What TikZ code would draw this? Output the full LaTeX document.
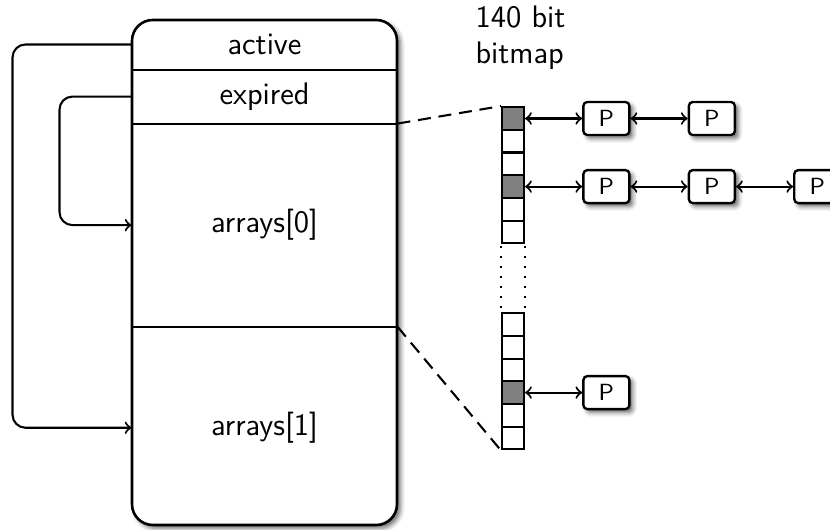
\documentclass[tikz,border=0pt]{standalone}
\usetikzlibrary{positioning,shadows.blur}

\tikzset{
  queue/.style={draw, line width=1pt, rounded corners=8pt, fill=white,
    blur shadow={shadow opacity=60, shadow xshift=1.3pt, shadow yshift=-1.3pt}},
  part/.style={minimum width=102pt, inner sep=0pt},
  cell/.style={draw, thick, minimum width=8.5pt, minimum height=8.74pt, inner sep=0pt},
  task/.style={draw, line width=0.9pt, rounded corners=1.5pt, fill=white,
    blur shadow={shadow opacity=60, shadow xshift=1.3pt, shadow yshift=-1.3pt},
    font=\sffamily\small, minimum width=17.7pt, minimum height=12.7pt, inner sep=0pt},
  jump/.style={thick, rounded corners=5pt, ->},
  zoomline/.style={thick, dash pattern=on 5pt off 3pt},
  gap/.style={thick, dash pattern=on 0.6pt off 3.25pt, dash phase=3.1pt}
}

\begin{document}
\begin{tikzpicture}[x=0.385pt, y=-0.385pt, font=\sffamily\large, >=to]
  \useasboundingbox (0,0) rectangle (830,530);
  % run queue
  \draw[queue] (132,20) rectangle (397,525);
  \node[part, minimum height=18.9pt] (active) at (264.5,44.5) {active};
  \node[part, minimum height=20.4pt, below=0pt of active] (expired) {expired};
  \node[part, minimum height=77.8pt, below=0pt of expired] (arrays0) {arrays[0]};
  \node[part, minimum height=77.4pt, below=0pt of arrays0] (arrays1) {arrays[1]};
  \foreach \a in {active,expired,arrays0}
    \draw[thick] (\a.south west) -- (\a.south east);
  \draw[jump] (active.west) -- ++(-119,0) |- (arrays1.west);
  \draw[jump] (expired.west) -- ++(-72,0) |- (arrays0.west);

  % priority bitmaps
  \node[anchor=west, align=left, inner sep=0pt] (bitmap) at (475,37.5) {140 bit\\bitmap};
  \foreach \i/\f in {0/gray,1/white,2/white,3/gray,4/white,5/white}
    \node[cell, fill=\f] (hi\i) at (513,118.5+22.7*\i) {};
  \foreach \i/\f in {0/white,1/white,2/white,3/gray,4/white,5/white}
    \node[cell, fill=\f] (lo\i) at (513,324.5+22.7*\i) {};
  \draw[gap] (hi5.south west) -- (lo0.north west);
  \draw[gap] (hi5.south east) -- (lo0.north east);
  \draw[zoomline] (arrays0.north east) -- (hi0.north west);
  \draw[zoomline] (arrays1.north east) -- (lo5.south west);

  % task lists
  \node[task, right=22pt of hi0] (p11) {P};
  \node[task, right=22pt of p11] (p12) {P};
  \node[task, right=22pt of hi3] (p21) {P};
  \node[task, right=22pt of p21] (p22) {P};
  \node[task, right=22pt of p22] (p23) {P};
  \node[task, right=22pt of lo3] (p31) {P};
  \foreach \a/\b in {hi0/p11,p11/p12,hi3/p21,p21/p22,p22/p23,lo3/p31}
    \draw[thick, <->] (\a) -- (\b);
\end{tikzpicture}
\end{document}
